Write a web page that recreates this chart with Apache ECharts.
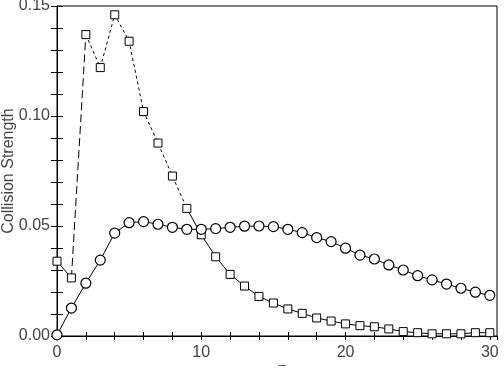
<!DOCTYPE html>
<html>
<head>
<meta charset="utf-8">
<script src="https://cdn.jsdelivr.net/npm/echarts@6/dist/echarts.min.js"></script>
<style>
  html, body { margin: 0; padding: 0; background: #fff; }
  #main { width: 504px; height: 373px; }
</style>
</head>
<body>
<div id="main"></div>
<script>
// energy grid (x) and the two collision strength curves
var xVals = [0,1,2,3,4,5,6,7,8,9,10,11,12,13,14,15,16,17,18,19,20,21,22,23,24,25,26,27,28,29,30];
var squareVals = [0.034,0.0264,0.137,0.122,0.146,0.134,0.102,0.0877,0.0727,0.058,0.046,0.036,0.028,0.0227,0.018,0.015,0.0123,0.0103,0.0082,0.0068,0.0055,0.0047,0.0042,0.0032,0.002,0.0015,0.001,0.001,0.001,0.0015,0.0015];
var circleVals = [0.0005,0.0127,0.024,0.0345,0.0468,0.0515,0.052,0.0508,0.0494,0.0485,0.0485,0.0488,0.0494,0.0499,0.05,0.0497,0.0485,0.047,0.0447,0.0429,0.0399,0.0368,0.035,0.0323,0.030,0.0274,0.0255,0.0236,0.0217,0.0199,0.0185];
var xTickLabels = [0, 10, 20, 30];
var yTickLabels = ['0.00', '0.05', '0.10', '0.15'];
var yTitle = 'Collision Strength';

function pairs(xs, ys, from, to){
    var out = [];
    for(var i=from;i<=to;i++){
        out.push([xs[i], ys[i]]);
    }
    return out;
}

var labelStyle = { color: '#444', fontFamily: 'Liberation Sans', fontSize: 16 };
var black = '#000';

var chart = echarts.init(document.getElementById('main'), null, {renderer: 'canvas'});

//方块曲线分段画线型
function sqSeries(from, to, lineType){
    return {
        type: 'line',
        data: pairs(xVals, squareVals, from, to),
        symbol: 'none',
        lineStyle: { color: black, width: 1, type: lineType },
        z: 3,
        animation: false
    };
}

var option = {
    backgroundColor: '#fff',
    grid: {
        left: 57, right: 7, top: 6, bottom: 37,
        containLabel: false, outerBoundsMode: 'none',
        show: true, borderColor: black, borderWidth: 1
    },
    graphic: [
        {
            type: 'text', left: 279, top: 354,
            style: { text: '_', fill: '#444', font: '12px "Liberation Sans"' }
        },
        {
            type: 'text', x: 9, y: 171, rotation: Math.PI / 2,
            style: { text: yTitle, fill: '#444', font: '16px "Liberation Sans"', align: 'center', verticalAlign: 'middle' }
        }
    ],
    xAxis: [
        {
            type: 'value', position: 'bottom', min: 0, max: 30.5, interval: 2,
            axisLine: { lineStyle: { color: black, width: 1 } },
            axisTick: { inside: true, length: 4, lineStyle: { color: black } },
            splitLine: { show: false },
            axisLabel: {
                color: labelStyle.color, fontFamily: labelStyle.fontFamily, fontSize: labelStyle.fontSize, margin: 9,
                showMaxLabel: false,
                formatter: function(v){ return xTickLabels.indexOf(v) >= 0 ? String(v) : ''; }
            }
        },
        {
            type: 'value', position: 'bottom', min: 0, max: 30.5, interval: 2,
            axisLine: { show: false },
            axisTick: { inside: false, length: 3, lineStyle: { color: black } },
            axisLabel: { show: false }, splitLine: { show: false }
        },
        {
            type: 'value', position: 'top', min: 0, max: 30.5, interval: 2,
            axisLine: { show: false },
            axisTick: { inside: true, length: 4, lineStyle: { color: black } },
            axisLabel: { show: false }, splitLine: { show: false }
        }
    ],
    yAxis: [
        {
            type: 'value', position: 'left', min: 0, max: 0.15, interval: 0.01,
            axisLine: { show: true, lineStyle: { color: black, width: 1 } },
            axisTick: { show: true, inside: false, length: 6, lineStyle: { color: black } },
            splitLine: { show: false },
            axisLabel: {
                color: labelStyle.color, fontFamily: labelStyle.fontFamily, fontSize: labelStyle.fontSize, margin: 7,
                formatter: function(v){
                    var k = Math.round(v * 100);
                    return k % 5 === 0 ? yTickLabels[k / 5] : '';
                }
            }
        },
        {
            type: 'value', position: 'left', min: 0, max: 0.15, interval: 0.01,
            axisLine: { show: false },
            axisTick: { show: true, inside: true, length: 6, lineStyle: { color: black } },
            axisLabel: { show: false }, splitLine: { show: false }
        },
        {
            type: 'value', position: 'right', min: 0, max: 0.15, interval: 0.01,
            axisLine: { show: false },
            axisTick: { show: true, inside: true, length: 5, lineStyle: { color: black } },
            axisLabel: { show: false }, splitLine: { show: false }
        }
    ],
    series: [
        sqSeries(0, 1, 'solid'),
        sqSeries(1, 2, [8, 4]),
        sqSeries(2, 9, [3, 3]),
        sqSeries(9, 30, 'solid'),
        {
            type: 'line',
            data: pairs(xVals, squareVals, 0, squareVals.length - 1),
            symbol: 'rect', symbolSize: 8,
            itemStyle: { color: '#fff', borderColor: black, borderWidth: 1 },
            lineStyle: { width: 0 },
            z: 4, animation: false
        },
        {
            type: 'line',
            data: pairs(xVals, circleVals, 0, circleVals.length - 1),
            symbol: 'circle', symbolSize: 10,
            itemStyle: { color: '#fff', borderColor: black, borderWidth: 1.2 },
            lineStyle: { color: black, width: 1 },
            z: 5, animation: false
        }
    ]
};

chart.setOption(option);
</script>
</body>
</html>
